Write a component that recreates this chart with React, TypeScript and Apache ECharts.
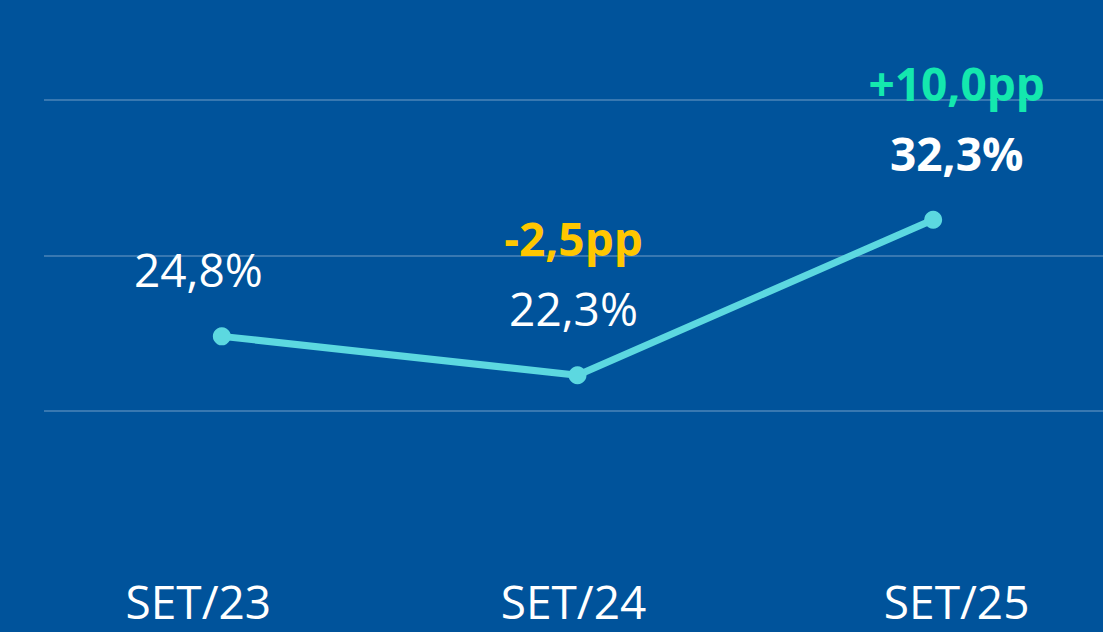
import React, { useEffect, useRef } from "react";
import * as echarts from "echarts";

const categories = ["SET/23", "SET/24", "SET/25"];
const values = [24.8, 22.3, 32.3];
const deltas = ["", "-2,5pp", "+10,0pp"];
const deltaStyles = ["", "neg", "pos"];
const boldValue = [false, false, true];
const yTicks = [10, 20, 30, 40];

// layout: horizontal shift of the text labels relative to the points (px)
const labelShift = [-23.5, -4, 23.5];

const fmt = (v: number) => v.toFixed(1).replace(".", ",") + "%";

export default function App() {
  const ref = useRef<HTMLDivElement>(null);
  useEffect(() => {
    if (!ref.current) return;
    const chart = echarts.init(ref.current, null, { renderer: "svg" });
    const font = "'Open Sans', sans-serif";
    const data = values.map((v, i) => ({
      value: v,
      label: {
        offset: [labelShift[i], 0],
        formatter: deltas[i]
          ? `{${deltaStyles[i]}|${deltas[i]}}\n{${boldValue[i] ? "vb" : "v"}|${fmt(v)}}`
          : `{${boldValue[i] ? "vb" : "v"}|${fmt(v)}}`,
      },
    }));
    const axisRich: Record<string, any> = {};
    labelShift.forEach((s, i) => {
      axisRich["c" + i] = {
        color: "#ffffff",
        fontSize: 46,
        fontFamily: font,
        padding: s < 0 ? [0, -2 * s, 0, 0] : [0, 0, 0, 2 * s],
      };
    });
    chart.setOption({
      animation: false,
      backgroundColor: "#00539B",
      grid: { left: 44, right: 0, top: 100, bottom: 65.5 },
      xAxis: {
        type: "category",
        data: categories,
        boundaryGap: true,
        axisLine: { show: false },
        axisTick: { show: false },
        axisLabel: {
          color: "#ffffff",
          fontSize: 46,
          fontFamily: font,
          margin: 11,
          formatter: (val: string, idx: number) => `{c${idx}|${val}}`,
          rich: axisRich,
        },
      },
      yAxis: {
        type: "value",
        min: yTicks[0],
        max: yTicks[yTicks.length - 1],
        interval: 10,
        axisLabel: { show: false },
        axisLine: { show: false },
        axisTick: { show: false },
        splitLine: {
          show: true,
          lineStyle: {
            color: [
              "rgba(0,0,0,0)",
              "rgba(255,255,255,0.22)",
              "rgba(255,255,255,0.22)",
              "rgba(255,255,255,0.22)",
            ],
            width: 2,
          },
        },
      },
      series: [
        {
          type: "line",
          data,
          symbol: "circle",
          symbolSize: 18,
          lineStyle: { color: "#5CD8E0", width: 7 },
          itemStyle: { color: "#5CD8E0" },
          label: {
            show: true,
            position: "top",
            distance: 23,
            fontFamily: font,
            rich: {
              v: { color: "#ffffff", fontSize: 46, fontFamily: font, lineHeight: 70 },
              vb: { color: "#ffffff", fontSize: 46, fontWeight: "bold", fontFamily: font, lineHeight: 70 },
              neg: { color: "#FFC700", fontSize: 46, fontWeight: "bold", fontFamily: font, lineHeight: 70 },
              pos: { color: "#14E8AE", fontSize: 46, fontWeight: "bold", fontFamily: font, lineHeight: 70 },
            },
          },
        },
      ],
    });
    return () => chart.dispose();
  }, []);
  return (
    <div
      style={{ position: "fixed", left: 0, top: 0, width: 1103, height: 632, overflow: "hidden", background: "#00539B" }}
    >
      <div ref={ref} style={{ position: "absolute", left: 0, top: 0, width: 1111, height: 632 }} />
    </div>
  );
}
